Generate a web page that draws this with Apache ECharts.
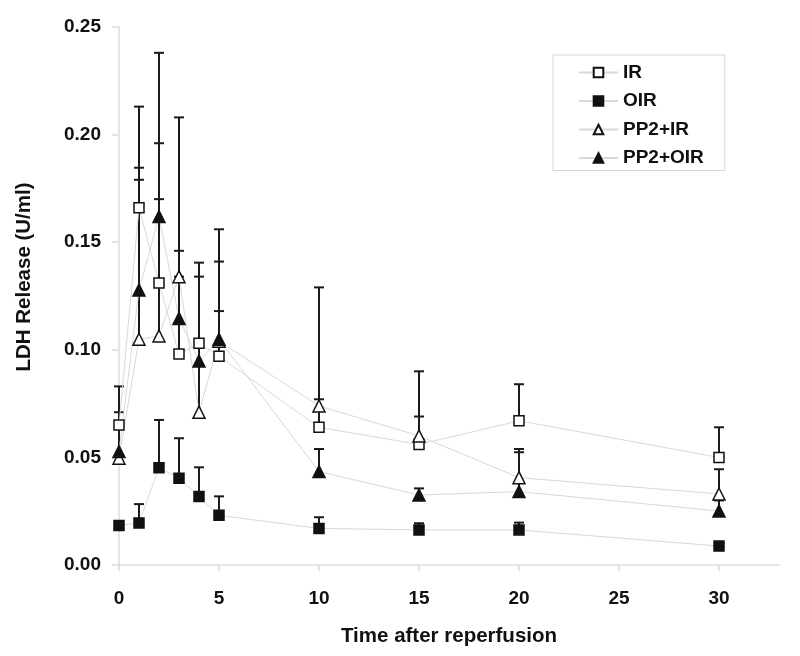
<!DOCTYPE html>
<html><head><meta charset="utf-8">
<script src="https://cdn.jsdelivr.net/npm/echarts@6/dist/echarts.min.js"></script>
<style>html,body{margin:0;padding:0;background:#fff}#c{width:800px;height:656px}</style>
</head><body><div id="c"></div>
<script>
// Time points (minutes after reperfusion)
const times = [0, 1, 2, 3, 4, 5, 10, 15, 20, 30];
const xTickValues = [0, 5, 10, 15, 20, 25, 30];
const yTickValues = [0, 0.05, 0.10, 0.15, 0.20, 0.25];

// Means and upper error-bar ends (U/ml)
const irMean      = [0.065, 0.166, 0.131, 0.098, 0.103, 0.097, 0.064, 0.056, 0.067, 0.050];
const irTop       = [0.083, 0.213, 0.196, 0.134, 0.134, 0.118, 0.077, 0.069, 0.084, 0.064];
const oirMean     = [0.0184, 0.0195, 0.0452, 0.0403, 0.0318, 0.0231, 0.0170, 0.0163, 0.0163, 0.0088];
const oirTop      = [0.0184, 0.0283, 0.0674, 0.0589, 0.0454, 0.0319, 0.0222, 0.0194, 0.0197, 0.0088];
const pp2irMean   = [0.0496, 0.1049, 0.1064, 0.134, 0.071, 0.104, 0.0739, 0.060, 0.0406, 0.033];
const pp2irTop    = [0.0496, 0.179, 0.170, 0.208, 0.1405, 0.156, 0.129, 0.090, 0.0539, 0.0445];
const pp2oirMean  = [0.0527, 0.1278, 0.1619, 0.1146, 0.0948, 0.1049, 0.0434, 0.0325, 0.0341, 0.0251];
const pp2oirTop   = [0.071, 0.1846, 0.238, 0.146, 0.103, 0.141, 0.0539, 0.0356, 0.0524, 0.030];

const seriesNames = ['IR', 'OIR', 'PP2+IR', 'PP2+OIR'];

const FONT = '"Liberation Sans", Arial, sans-serif';
const INK = '#111';

function pts(mean) { return times.map((t, i) => [t, mean[i]]); }
function errPts(mean, top) { return times.map((t, i) => [t, mean[i], top[i]]); }

function errRender(params, api) {
  const x = api.value(0), m = api.value(1), t = api.value(2);
  if (!(t > m)) return null;
  const p0 = api.coord([x, m]);
  const p1 = api.coord([x, t]);
  const cw = 5;
  const st = { stroke: '#1a1a1a', lineWidth: 2 };
  return {
    type: 'group',
    children: [
      { type: 'line', shape: { x1: p0[0], y1: p0[1], x2: p1[0], y2: p1[1] }, style: st },
      { type: 'line', shape: { x1: p1[0] - cw, y1: p1[1], x2: p1[0] + cw, y2: p1[1] }, style: st }
    ]
  };
}

function errSeries(name, mean, top) {
  return {
    type: 'custom', name: name + ' SEM', z: 2, silent: true,
    renderItem: errRender,
    encode: { x: 0, y: [1, 2] },
    data: errPts(mean, top)
  };
}

const lineStyle = { color: '#d9d9d9', width: 1 };

function lineSeries(name, mean, symbol, size, fill) {
  return {
    type: 'line', name: name, z: 3,
    data: pts(mean),
    symbol: symbol, symbolSize: size, showSymbol: true,
    lineStyle: lineStyle,
    itemStyle: { color: fill, borderColor: INK, borderWidth: 1.5 },
    emphasis: { disabled: true }
  };
}

const chart = echarts.init(document.getElementById('c'), null, { renderer: 'canvas' });
chart.setOption({
  backgroundColor: '#fff',
  animation: false,
  grid: { left: 119, right: 21, top: 27, bottom: 91, containLabel: false },
  legend: {
    data: seriesNames,
    orient: 'vertical',
    left: 553, top: 55,
    padding: [8, 21, 3, 25],
    itemWidth: 39, itemHeight: 12, itemGap: 9.5,
    borderColor: '#d6d6d6', borderWidth: 1,
    textStyle: { fontFamily: FONT, fontWeight: 'bold', fontSize: 19, color: INK },
    selectedMode: false
  },
  xAxis: {
    type: 'value', min: 0, max: 33,
    name: 'Time after reperfusion', nameLocation: 'middle', nameGap: 61,
    nameTextStyle: { fontFamily: FONT, fontWeight: 'bold', fontSize: 20.5, color: INK },
    axisLine: { show: true, lineStyle: { color: '#dcdcdc', width: 1.5 } },
    axisTick: { show: true, length: 6, lineStyle: { color: '#dcdcdc', width: 1.5 }, customValues: xTickValues },
    axisLabel: { margin: 24, fontFamily: FONT, fontWeight: 'bold', fontSize: 19, color: INK, customValues: xTickValues },
    splitLine: { show: false }
  },
  yAxis: {
    type: 'value', min: 0, max: 0.25, interval: 0.05,
    axisLine: { show: true, lineStyle: { color: '#dcdcdc', width: 1.5 } },
    axisTick: { show: true, length: 7, lineStyle: { color: '#dcdcdc', width: 1.5 }, customValues: yTickValues },
    axisLabel: { margin: 18, fontFamily: FONT, fontWeight: 'bold', fontSize: 19, color: INK,
      customValues: yTickValues, formatter: v => v.toFixed(2) },
    splitLine: { show: false }
  },
  graphic: [{
    type: 'text', x: 24, y: 277, rotation: Math.PI / 2,
    style: { text: 'LDH Release (U/ml)', align: 'center', verticalAlign: 'middle',
      fontFamily: FONT, fontWeight: 'bold', fontSize: 20.5, fill: INK }
  }],
  series: [
    errSeries('IR', irMean, irTop),
    errSeries('OIR', oirMean, oirTop),
    errSeries('PP2+IR', pp2irMean, pp2irTop),
    errSeries('PP2+OIR', pp2oirMean, pp2oirTop),
    lineSeries('IR', irMean, 'rect', 10, '#fff'),
    lineSeries('OIR', oirMean, 'rect', 10, INK),
    lineSeries('PP2+IR', pp2irMean, 'triangle', 12, '#fff'),
    lineSeries('PP2+OIR', pp2oirMean, 'triangle', 12, INK)
  ]
});
</script>
</body></html>
